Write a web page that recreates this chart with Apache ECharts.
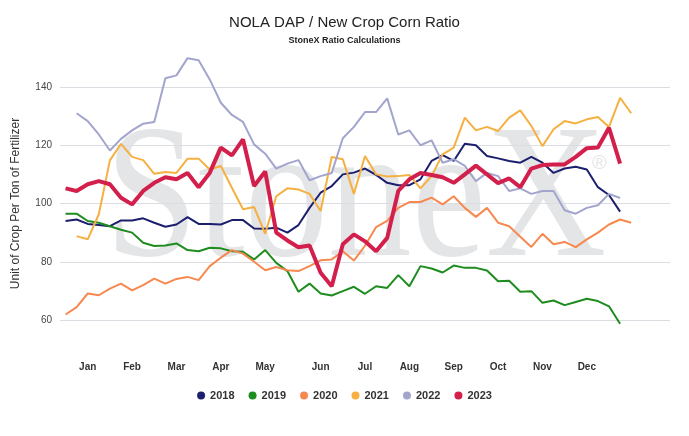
<!DOCTYPE html><html><head><meta charset="utf-8"><script src="https://cdn.jsdelivr.net/npm/echarts@6/dist/echarts.min.js"></script></head><body style="margin:0"><div id="c" style="width:689px;height:436px"></div><script>
const monthLabels={2:'Jan',6:'Feb',10:'Mar',14:'Apr',18:'May',23:'Jun',27:'Jul',31:'Aug',35:'Sep',39:'Oct',43:'Nov',47:'Dec'};
const weeks=Array.from({length:55},(_,i)=>String(i));
const s2018=[94,94.5,93,92.6,92.2,94.2,94.2,94.9,93.4,92,92.8,95.3,93,93,92.8,94.3,94.3,91.4,91.3,91.7,90,92.6,98.5,103.7,106,110,110.6,112,109.8,107.1,106.3,106.3,108.3,114.6,116.6,114.6,120.5,120,116.3,115.5,114.6,114,116,114,110.5,112,112.6,111.7,105.6,102.9,97.2];
const s2019=[96.5,96.5,94,93.4,92.2,91,90,86.5,85.4,85.6,86.3,84,83.6,84.8,84.6,83.6,83.4,80.8,84,79.6,76.8,69.7,72.5,69.1,68.4,69.9,71.4,69,71.6,71,75.4,71.6,78.5,77.7,76.3,78.7,77.9,77.9,77,73.3,73.5,69.7,69.9,65.9,66.7,65.1,66.2,67.3,66.5,64.7,58.7];
const s2020=[61.9,64.4,69.1,68.5,70.8,72.5,70.2,72,74.2,72.5,74.1,74.8,73.7,78.5,81.4,84,82.8,80,77.1,78.2,77.1,76.8,78.5,80.5,80.8,83.6,80.4,85.5,91.9,94,98.5,100.5,100.5,102,99.7,102.5,98.5,95.4,98.5,93.4,92.2,88.6,85.1,89.6,86,86.8,85,87.7,90,92.8,94.5,93.4];
const s2021=[null,88.8,87.7,96.3,114.8,120.5,116,114.9,110.2,110.8,110.5,115.4,115.4,111.7,112.9,105.4,98,98.8,89.6,102.5,105.2,104.8,103.3,97.4,116,115.2,103.3,116.3,110,109.3,109.4,109.8,105.2,109.4,116.9,119.2,129.5,125.1,126.3,124.9,129.5,132,126.6,119.7,125.5,128.3,127.5,128.9,129.7,126.3,136.3,131];
const s2022=[null,131,128.3,123.7,118.2,122.2,125.1,127.4,128,143,144,149.9,149.2,142.6,134.6,130.4,128,120.3,117.1,112,113.7,114.9,108,109.4,110.5,122.4,126.3,131.4,131.4,136.1,123.7,125.1,120,121.7,114,115.2,112.9,107.7,110.5,109.4,104.3,105.2,103.3,104.3,104.3,97.7,96.5,98.5,99.4,103.3,101.9];
const s2023=[105.2,104.3,106.6,107.7,106.6,102,99.7,104.3,107.1,109,108.3,110.5,105.6,110.5,119.2,116.5,122,106,111,90,87.3,85,85.6,76.2,71.6,86,89.4,87,83.6,88.2,104.3,108.3,110.5,109.8,109,107.1,110,113,110,107,108.6,105.6,112,113.2,113.4,113.4,116,119,119.2,126,113.7];
const names=['2018','2019','2020','2021','2022','2023'];
const data=[s2018,s2019,s2020,s2021,s2022,s2023];
const colors=['#1b1f6e','#1e8c1e','#f7884f','#f6b042','#a2a5cd','#d21f4b'];
const ch=echarts.init(document.getElementById('c'));
ch.setOption({
 animation:false,
 title:{text:'NOLA DAP / New Crop Corn Ratio',subtext:'StoneX Ratio Calculations',left:'center',top:10,itemGap:6,
  textStyle:{fontFamily:'Liberation Sans',fontSize:15,fontWeight:'normal',color:'#222'},
  subtextStyle:{fontFamily:'Liberation Sans',fontSize:9,fontWeight:'bold',color:'#222'}},
 graphic:[{type:'text',x:105,y:110,scaleX:0.88,z:-10,silent:true,style:{text:'StoneX',font:'190px "Liberation Serif"',fill:'#e4e5e7'}},
          {type:'text',left:592,top:153,z:-10,silent:true,style:{text:'®',font:'20px "Liberation Sans"',fill:'#e4e5e7'}}],
 legend:{bottom:30,icon:'circle',itemWidth:8,itemHeight:8,itemGap:14,textStyle:{fontFamily:'Liberation Sans',fontSize:11,fontWeight:'bold',color:'#333'},data:names},
 grid:{left:60,right:19,top:87,bottom:116},
 xAxis:{type:'category',data:weeks,boundaryGap:true,axisLine:{show:false},axisTick:{show:false},
  axisLabel:{interval:0,margin:42,fontFamily:'Liberation Sans',fontSize:10,fontWeight:'bold',color:'#333',formatter:(v,i)=>monthLabels[i]||''}},
 yAxis:{type:'value',min:60,max:140,interval:20,name:'Unit of Crop Per Ton of Fertilizer',nameLocation:'middle',nameGap:38,
  nameTextStyle:{fontFamily:'Liberation Sans',fontSize:12,color:'#333'},
  axisLabel:{fontFamily:'Liberation Sans',fontSize:10,color:'#444'},splitLine:{lineStyle:{color:'#dcdde3'}}},
 series:names.map((n,k)=>({name:n,type:'line',data:data[k],symbol:'none',clip:false,color:colors[k],
  lineStyle:{width:k===5?4:2},z:k===5?5:2}))
});
</script></body></html>
